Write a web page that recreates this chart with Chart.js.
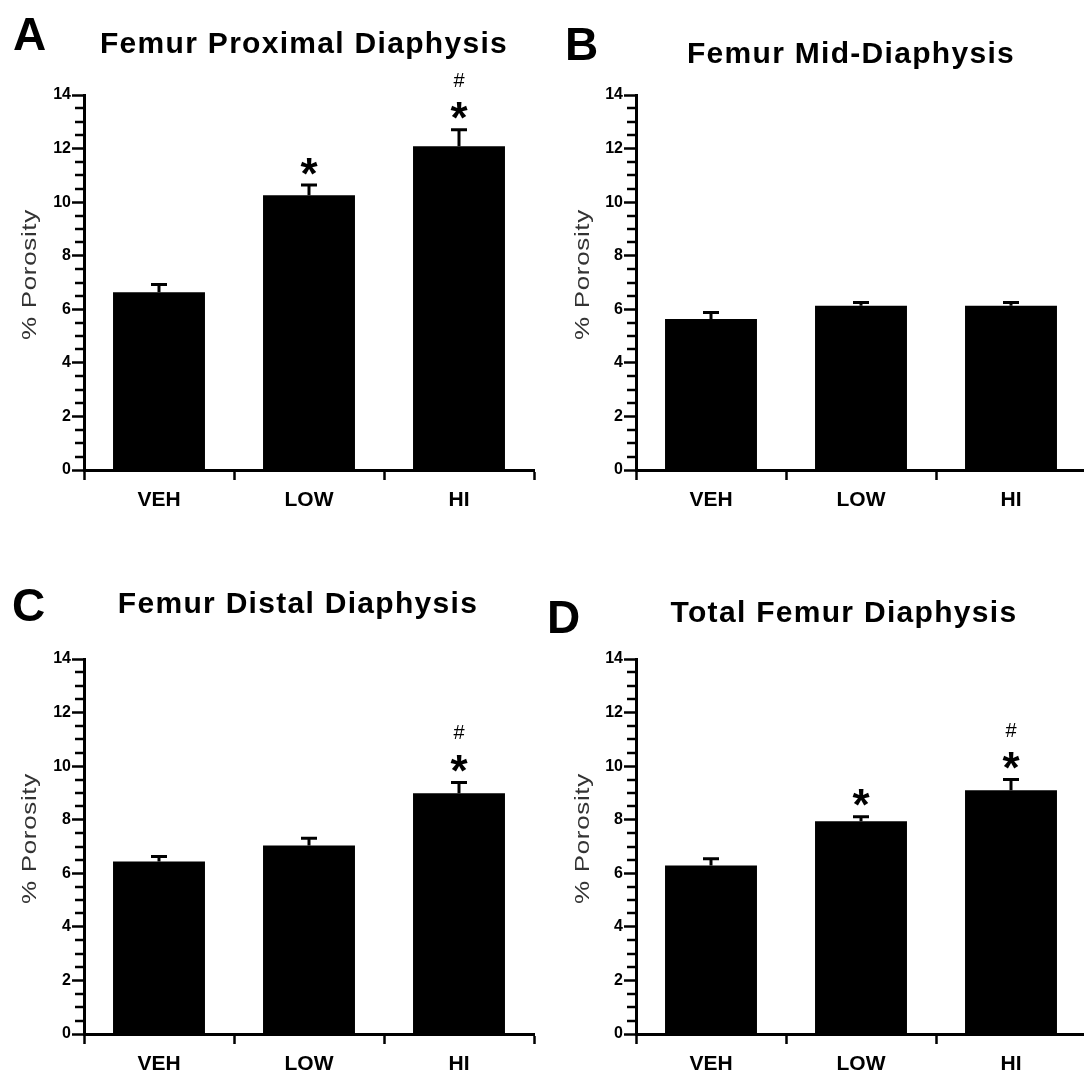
<!DOCTYPE html>
<html>
<head>
<meta charset="utf-8">
<script src="https://cdn.jsdelivr.net/npm/chart.js@4"></script>
<style>
  html, body { margin: 0; padding: 0; background: #fff; overflow: hidden; }
  body { width: 1084px; height: 1074px; position: relative; }
  canvas { position: absolute; }
</style>
</head>
<body>
<canvas id="chartA" width="542" height="540" style="left:0;top:0"></canvas>
<canvas id="chartB" width="552" height="540" style="left:542px;top:0"></canvas>
<canvas id="chartC" width="542" height="510" style="left:0;top:564px"></canvas>
<canvas id="chartD" width="552" height="510" style="left:542px;top:564px"></canvas>
<script>
// data
const categories = ['VEH', 'LOW', 'HI'];
const yTicks = [0, 2, 4, 6, 8, 10, 12, 14];
const yMinorTicks = [0.5, 1, 1.5, 2.5, 3, 3.5, 4.5, 5, 5.5, 6.5, 7, 7.5, 8.5, 9, 9.5, 10.5, 11, 11.5, 12.5, 13, 13.5];

const meansProximal = [6.64, 10.26, 12.09];
const errProximal = [0.29, 0.38, 0.61];
const starProximal = [false, true, true];
const hashProximal = [false, false, true];

const meansMid = [5.64, 6.13, 6.13];
const errMid = [0.24, 0.12, 0.12];
const starMid = [false, false, false];
const hashMid = [false, false, false];

const meansDistal = [6.44, 7.04, 8.99];
const errDistal = [0.19, 0.27, 0.40];
const starDistal = [false, false, true];
const hashDistal = [false, false, true];

const meansTotal = [6.29, 7.94, 9.10];
const errTotal = [0.25, 0.17, 0.40];
const starTotal = [false, true, true];
const hashTotal = [false, false, true];

const FONT = '"Liberation Sans", Arial, Helvetica, sans-serif';

// layout of each panel (canvas coords)
const panels = [
  { canvas: 'chartA', letter: 'A', title: 'Femur Proximal Diaphysis', means: meansProximal, errs: errProximal, stars: starProximal, hashes: hashProximal,
    axisLeft: 84, right: 8, xHeight: 70, letterX: 13, letterY: 50, titleX: 304, titleY: 53, yTitleX: 30 },
  { canvas: 'chartB', letter: 'B', title: 'Femur Mid-Diaphysis', means: meansMid, errs: errMid, stars: starMid, hashes: hashMid,
    axisLeft: 94, right: 8, xHeight: 70, letterX: 23, letterY: 60, titleX: 309, titleY: 63, yTitleX: 41 },
  { canvas: 'chartC', letter: 'C', title: 'Femur Distal Diaphysis', means: meansDistal, errs: errDistal, stars: starDistal, hashes: hashDistal,
    axisLeft: 84, right: 8, xHeight: 40, letterX: 12, letterY: 57, titleX: 298, titleY: 49, yTitleX: 30 },
  { canvas: 'chartD', letter: 'D', title: 'Total Femur Diaphysis', means: meansTotal, errs: errTotal, stars: starTotal, hashes: hashTotal,
    axisLeft: 94, right: 8, xHeight: 40, letterX: 5, letterY: 69, titleX: 302, titleY: 58, yTitleX: 41 }
];

// draw text centred on its real ink box
function centerGlyph(ctx, text, x, y) {
  const m = ctx.measureText(text);
  const h = m.actualBoundingBoxAscent + m.actualBoundingBoxDescent;
  ctx.textAlign = 'center';
  ctx.textBaseline = 'alphabetic';
  ctx.fillText(text, x, y + h / 2 - m.actualBoundingBoxDescent);
}

const decorPlugin = {
  id: 'decor',
  afterDraw(chart, args, opts) {
    const p = opts.panel;
    const ctx = chart.ctx;
    const ys = chart.scales.y;
    const meta = chart.getDatasetMeta(0);
    ctx.save();
    ctx.fillStyle = '#000';
    ctx.strokeStyle = '#000';

    // minor ticks
    ctx.lineWidth = 2.5;
    const ax = chart.chartArea.left;
    yMinorTicks.forEach(v => {
      const y = Math.round(ys.getPixelForValue(v));
      ctx.beginPath();
      ctx.moveTo(ax - 9, y);
      ctx.lineTo(ax, y);
      ctx.stroke();
    });

    // error bars (upper only) + significance marks
    ctx.lineWidth = 3;
    meta.data.forEach((bar, i) => {
      const top = ys.getPixelForValue(p.means[i] + p.errs[i]);
      ctx.beginPath();
      ctx.moveTo(bar.x, bar.y);
      ctx.lineTo(bar.x, top);
      ctx.moveTo(bar.x - 8, top);
      ctx.lineTo(bar.x + 8, top);
      ctx.stroke();
      if (p.stars[i]) {
        ctx.font = 'bold 44px ' + FONT;
        centerGlyph(ctx, '*', bar.x, top - 19);
      }
      if (p.hashes[i]) {
        ctx.font = '20px ' + FONT;
        centerGlyph(ctx, '#', bar.x, top - 50);
      }
    });

    // panel letter and title
    ctx.textAlign = 'left';
    ctx.textBaseline = 'alphabetic';
    ctx.font = 'bold 46px ' + FONT;
    ctx.fillText(p.letter, p.letterX, p.letterY);
    ctx.font = 'bold 30px ' + FONT;
    ctx.letterSpacing = '1.3px';
    ctx.textAlign = 'center';
    ctx.fillText(p.title, p.titleX, p.titleY);

    // y axis title (the original font is a bit stretched)
    const midY = (chart.chartArea.top + chart.chartArea.bottom) / 2 - 8;
    ctx.translate(p.yTitleX, midY);
    ctx.rotate(-Math.PI / 2);
    ctx.scale(1.3, 1);
    ctx.font = '20px ' + FONT;
    ctx.letterSpacing = '0.5px';
    ctx.fillStyle = '#333';
    ctx.textBaseline = 'middle';
    ctx.fillText('% Porosity', 0, 0);
    ctx.restore();
  }
};

panels.forEach(p => {
  const canvas = document.getElementById(p.canvas);
  const ctx = canvas.getContext('2d');
  new Chart(ctx, {
    type: 'bar',
    data: {
      labels: categories,
      datasets: [{
        data: p.means,
        backgroundColor: '#000',
        borderWidth: 0,
        barPercentage: 0.613,
        categoryPercentage: 1
      }]
    },
    options: {
      responsive: false,
      animation: false,
      layout: { padding: { left: 0, top: 95, right: p.right, bottom: 0 } },
      plugins: {
        legend: { display: false },
        tooltip: { enabled: false },
        title: { display: false },
        decor: { panel: p }
      },
      scales: {
        x: {
          type: 'category',
          offset: true,
          afterFit: s => { s.height = p.xHeight; },
          grid: { offset: true, drawOnChartArea: false, drawTicks: true, tickLength: 10, tickWidth: 2.5, tickColor: '#000' },
          border: { display: true, color: '#000', width: 3 },
          ticks: { color: '#000', font: { family: FONT, size: 21, weight: 'bold' }, padding: 8 }
        },
        y: {
          min: 0,
          max: 14,
          afterFit: s => { s.width = p.axisLeft; },
          afterBuildTicks: s => { s.ticks = yTicks.map(v => ({ value: v })); },
          grid: { drawOnChartArea: false, drawTicks: true, tickLength: 12, tickWidth: 2.5, tickColor: '#000' },
          border: { display: true, color: '#000', width: 3 },
          ticks: { color: '#000', font: { family: FONT, size: 16, weight: 'bold' }, padding: 1, autoSkip: false }
        }
      }
    },
    plugins: [decorPlugin]
  });
});
</script>
</body>
</html>
